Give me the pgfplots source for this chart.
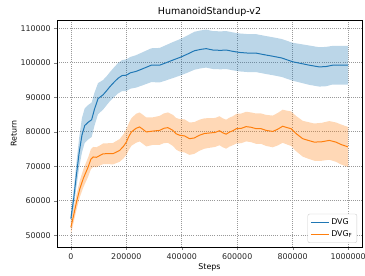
\documentclass[border=0pt]{standalone}
\usepackage{fontspec}
\setmainfont{DejaVu Sans}
\usepackage{pgfplots}
\usepackage{pgfplotstable}
\pgfplotsset{compat=1.18}
\usepgfplotslibrary{fillbetween}
\definecolor{tabblue}{HTML}{1F77B4}
\definecolor{taborange}{HTML}{FF7F0E}
\pgfplotstableread{
x m h
0 54800 1200
10000 60500 2500
20000 67500 3500
30000 74000 4300
40000 79000 5000
50000 81800 5000
60000 82600 5000
75000 83500 5000
85000 86500 4800
98000 89600 4500
116000 90700 4300
130000 92000 4200
140000 93000 4200
155000 94300 4300
170000 95500 4400
185000 96300 4500
200000 96400 4600
215000 97100 4600
235000 97500 4700
260000 98300 4800
290000 99300 4900
320000 99300 5000
340000 99900 5100
362000 100600 5200
398000 101700 5300
420000 102500 5400
446000 103500 5500
470000 103900 5500
488000 104100 5500
512000 103700 5500
540000 103600 5500
560000 103700 5500
585000 103300 5500
608000 103000 5500
640000 102800 5500
668000 102800 5500
700000 102300 5500
728000 101900 5500
760000 101400 5500
800000 100300 5500
830000 99800 5600
860000 99300 5700
896000 98800 5700
920000 98900 5700
944000 99300 5600
970000 99300 5600
1000000 99300 5600
}\dvg
\pgfplotstableread{
x m h
0 52300 2000
8400 55200 2000
20000 59500 2200
32400 63500 2400
45000 66500 2600
62400 69800 2800
72000 72000 2900
80400 72700 2900
92000 72600 2900
104000 73100 2900
116000 73600 3000
128500 73650 3000
152000 73650 3100
176000 74600 3300
190000 75800 3500
200000 77000 3700
210000 78800 3900
218500 79950 4000
235000 81000 4200
248000 81400 4200
260000 80700 4200
272000 79950 4200
296000 80200 4000
320000 80400 4200
335000 81000 4300
350000 81200 4400
368000 80400 4500
380000 79400 4600
392000 79000 4700
410000 78800 4800
428000 78000 4700
445000 78200 4600
464000 79000 4500
482000 79500 4400
500000 79650 4300
520000 79800 4200
536000 80300 4200
548000 79700 4200
560000 79300 4200
572000 79900 4200
584000 80300 4200
597000 80900 4300
615000 81000 4300
632000 81500 4300
650000 81300 4300
668000 80900 4400
686000 80900 4400
704000 80400 4500
728000 80100 4600
745000 80700 4700
764000 81600 4800
780000 81200 4900
794000 80900 5000
812000 79500 5100
836000 78000 5200
856000 77500 5300
878000 77000 5400
905000 77100 5500
932000 77500 5600
956000 77000 5700
975000 76300 5800
1000000 75600 5800
}\dvgf
\begin{document}
\begin{tikzpicture}
\begin{axis}[
  at={(0pt,0pt)}, anchor=south west,
  scale only axis, width=305pt, height=227pt,
  xmin=-50000, xmax=1050000, ymin=46600, ymax=112400,
  xtick={0,200000,400000,600000,800000,1000000},
  ytick={50000,60000,70000,80000,90000,100000,110000},
  scaled ticks=false,
  /pgf/number format/fixed,
  /pgf/number format/1000 sep={},
  /pgf/number format/assume math mode=true,
  tick label style={font=\fontsize{7.9}{9}\selectfont, black!85},
  label style={font=\fontsize{7.9}{9}\selectfont},
  title style={font=\fontsize{9.5}{11}\selectfont, yshift=-6.5pt},
  title={HumanoidStandup-v2},
  xlabel={Steps}, ylabel={Return},
  xlabel style={yshift=3pt},
  ylabel style={yshift=-3pt},
  tick align=outside, tick pos=lower,
  major tick length=2.8pt,
  axis line style={line width=0.6pt},
  grid=major,
  major grid style={dash pattern=on 0.7pt off 1.4pt, black!40, line width=0.6pt},
  legend style={at={(0.984,0.018)}, anchor=south east, draw=gray!40,
    rounded corners=2pt, font=\fontsize{7.9}{9}\selectfont,
    row sep=1pt, inner sep=2.5pt},
  legend cell align=left,
  legend image code/.code={\draw[#1] (0pt,0pt) -- (18pt,0pt);},
]
\addplot[name path=bu, draw=none, forget plot] table[x=x, y expr=\thisrow{m}+\thisrow{h}] {\dvg};
\addplot[name path=bl, draw=none, forget plot] table[x=x, y expr=\thisrow{m}-\thisrow{h}] {\dvg};
\addplot[tabblue, fill opacity=0.3, forget plot] fill between[of=bu and bl];
\addplot[name path=ou, draw=none, forget plot] table[x=x, y expr=\thisrow{m}+\thisrow{h}] {\dvgf};
\addplot[name path=ol, draw=none, forget plot] table[x=x, y expr=\thisrow{m}-\thisrow{h}] {\dvgf};
\addplot[taborange, fill opacity=0.3, forget plot] fill between[of=ou and ol];
\addplot[tabblue, line width=1.0pt] table[x=x, y=m] {\dvg};
\addlegendentry{DVG}
\addplot[taborange, line width=1.0pt] table[x=x, y=m] {\dvgf};
\addlegendentry{DVG\textsubscript{F}}
\end{axis}
\pgfresetboundingbox
\path[use as bounding box] (-57pt,-29pt) rectangle (308pt,247pt);
\end{tikzpicture}
\end{document}
